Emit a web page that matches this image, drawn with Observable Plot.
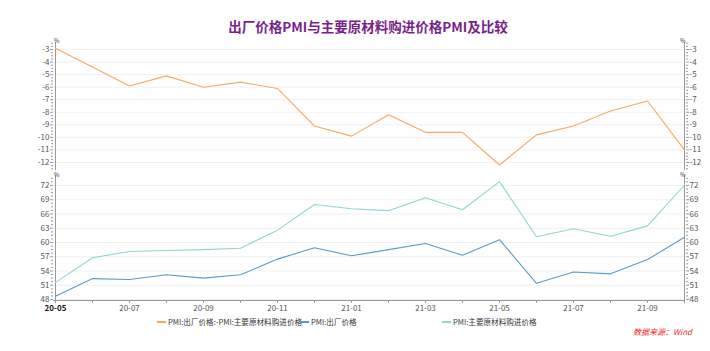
<!DOCTYPE html>
<html><head><meta charset="utf-8">
<script src="https://cdn.jsdelivr.net/npm/d3@7"></script>
<script src="https://cdn.jsdelivr.net/npm/@observablehq/plot@0.6"></script>
<style>
body{margin:0;background:#fff;font-family:"Noto Sans CJK SC",sans-serif;}
#wrap{position:relative;width:710px;height:351px;overflow:hidden;}
.abs{position:absolute;white-space:nowrap;line-height:1;}
.pc{font-size:6px;color:#333;}
.leg{font-size:7.6px;color:#333;display:flex;align-items:center;}
.seg{display:inline-block;width:9px;height:1.5px;margin-right:2px;}
</style></head><body>
<div id="wrap">
<div class="abs" style="left:0;width:736px;top:20px;text-align:center;font-size:13.5px;font-weight:bold;color:#7a1f8a;">出厂价格PMI与主要原材料购进价格PMI及比较</div>
<div id="p1" class="abs" style="left:0;top:35px;"></div>
<div id="p2" class="abs" style="left:0;top:170px;"></div>
<div class="abs pc" style="left:54px;top:38px;">%</div>
<div class="abs pc" style="left:680px;top:38px;">%</div>
<div class="abs pc" style="left:54px;top:172px;">%</div>
<div class="abs pc" style="left:680px;top:172px;">%</div>
<div class="abs leg" style="left:157px;top:318px;"><span class="seg" style="background:#f9a85e"></span>PMI:出厂价格:-PMI:主要原材料购进价格</div>
<div class="abs leg" style="left:300px;top:318px;"><span class="seg" style="background:#5a9cc4"></span>PMI:出厂价格</div>
<div class="abs leg" style="left:442px;top:318px;"><span class="seg" style="background:#8fd6d4"></span>PMI:主要原材料购进价格</div>
<div class="abs" style="left:633px;top:328px;font-size:8px;color:#e8262a;font-style:italic;">数据来源：Wind</div>
</div>
<script>
const months = ["20-05","20-06","20-07","20-08","20-09","20-10","20-11","20-12","21-01","21-02","21-03","21-04","21-05","21-06","21-07","21-08","21-09","21-10"];
const spread = [-2.9,-4.4,-5.9,-5.1,-6.0,-5.6,-6.1,-9.1,-9.9,-8.2,-9.6,-9.6,-12.2,-9.8,-9.1,-7.9,-7.1,-11.0];
const outputPMI = [48.7,52.4,52.2,53.2,52.5,53.2,56.5,58.9,57.2,58.5,59.8,57.3,60.6,51.4,53.8,53.4,56.4,61.1];
const inputPMI = [51.6,56.8,58.1,58.3,58.5,58.8,62.6,68.0,67.1,66.7,69.4,66.9,72.8,61.2,62.9,61.3,63.5,72.1];
const topTicks = [-3,-4,-5,-6,-7,-8,-9,-10,-11,-12];
const bottomTicks = [48,51,54,57,60,63,66,69,72];
const xLabels = ["20-07","20-09","20-11","21-01","21-03","21-05","21-07","21-09"];
const firstLabel = "20-05";

const C_OR = "#f9a85e", C_BL = "#5a9cc4", C_TL = "#8fd6d4";
const AX = "#9a9a9a", TX = "#555";
const font = '"Noto Sans CJK SC", sans-serif';
const table = months.map((m, i) => ({month: m, spread: spread[i], out: outputPMI[i], inp: inputPMI[i]}));

const topMinor = d3.range(-12.5, -2.49, 0.25).filter(v => !topTicks.includes(v));
const botMinor = d3.range(48, 73.6, 0.75).filter(v => !bottomTicks.includes(v));

function yAxes(major, minor) {
  return [
    Plot.axisY({anchor: "left", label: null, ticks: minor, tickSize: 2, tickFormat: () => "", stroke: AX}),
    Plot.axisY({anchor: "left", label: null, ticks: major, tickSize: 3, tickPadding: 1, tickFormat: d => String(d), stroke: AX, fill: TX}),
    Plot.axisY({anchor: "right", label: null, ticks: minor, tickSize: 2, tickFormat: () => "", stroke: AX}),
    Plot.axisY({anchor: "right", label: null, ticks: major, tickSize: 3, tickPadding: 1, tickFormat: d => String(d), stroke: AX, fill: TX}),
    Plot.ruleX([months[0], months[months.length - 1]], {stroke: AX})
  ];
}

const common = {
  width: 710, marginLeft: 53, marginRight: 25,
  style: {fontFamily: font, fontSize: "8px", background: "transparent", overflow: "visible"},
  x: {type: "point", domain: months, padding: 0, axis: null, label: null}
};

const p1 = Plot.plot({
  ...common,
  height: 137, marginTop: 7, marginBottom: 2,
  y: {domain: [-12.64, -2.44], axis: null, label: null},
  marks: [
    Plot.ruleY(topTicks, {stroke: "#f1f1f1"}),
    ...yAxes(topTicks, topMinor),
    Plot.line(table, {x: "month", y: "spread", stroke: C_OR, strokeWidth: 1.1})
  ]
});
document.getElementById("p1").appendChild(p1);

const yBot = [47.79, 74.1];
const p2 = Plot.plot({
  ...common,
  height: 160, marginTop: 5, marginBottom: 30,
  y: {domain: yBot, axis: null, label: null},
  marks: [
    Plot.ruleY(bottomTicks, {stroke: "#f1f1f1"}),
    ...yAxes(bottomTicks, botMinor),
    Plot.ruleY([yBot[0]], {stroke: AX}),
    Plot.axisX({label: null, ticks: months, tickSize: 3, tickFormat: () => "", stroke: AX}),
    Plot.axisX({label: null, ticks: xLabels, tickSize: 0, tickPadding: 5, fill: TX}),
    Plot.axisX({label: null, ticks: [firstLabel], tickSize: 0, tickPadding: 5, fill: "#111", fontWeight: "bold"}),
    Plot.line(table, {x: "month", y: "inp", stroke: C_TL, strokeWidth: 1.1}),
    Plot.line(table, {x: "month", y: "out", stroke: C_BL, strokeWidth: 1.1})
  ]
});
document.getElementById("p2").appendChild(p2);
</script>
</body></html>
